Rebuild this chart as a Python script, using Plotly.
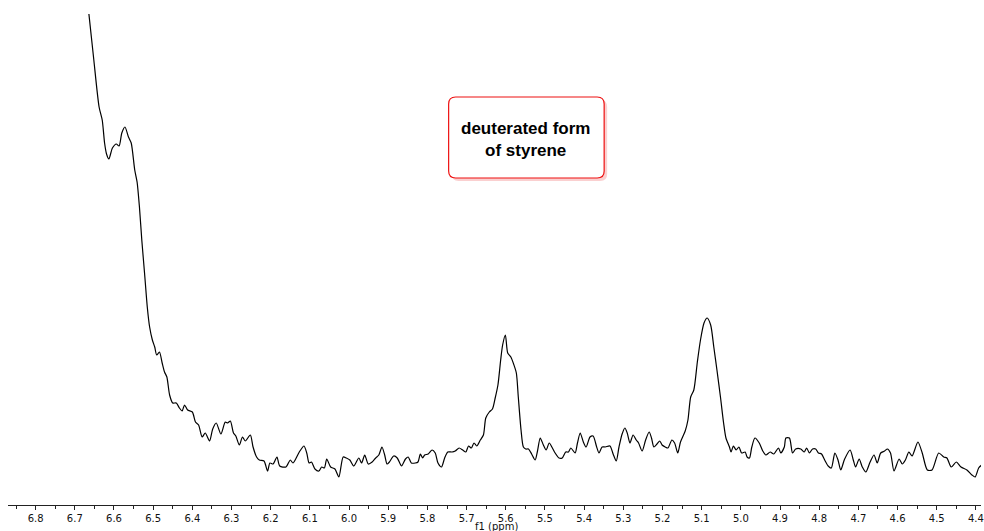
import plotly.graph_objects as go

# Chemical shift (ppm) and intensity (arbitrary units)
ppm = [
    6.670, 6.664, 6.652, 6.638, 6.630, 6.624, 6.619, 6.613, 6.604, 6.594,
    6.587, 6.580, 6.572, 6.563, 6.556, 6.547, 6.541, 6.535, 6.529, 6.522,
    6.515, 6.509, 6.502, 6.496, 6.491, 6.484, 6.477, 6.471, 6.465, 6.458,
    6.450, 6.441, 6.433, 6.426, 6.420, 6.412, 6.400, 6.392, 6.384, 6.375,
    6.367, 6.356, 6.348, 6.339, 6.327, 6.316, 6.310, 6.303, 6.295, 6.289,
    6.280, 6.272, 6.265, 6.252, 6.245, 6.236, 6.229, 6.217, 6.208, 6.202,
    6.194, 6.184, 6.177, 6.161, 6.150, 6.143, 6.127, 6.115, 6.108, 6.102,
    6.096, 6.087, 6.077, 6.070, 6.063, 6.057, 6.047, 6.036, 6.026, 6.015,
    6.007, 5.998, 5.988, 5.975, 5.968, 5.960, 5.951, 5.941, 5.932, 5.924,
    5.916, 5.909, 5.903, 5.897, 5.886, 5.877, 5.866, 5.856, 5.849, 5.841,
    5.831, 5.824, 5.818, 5.812, 5.807, 5.798, 5.788, 5.780, 5.773, 5.764,
    5.756, 5.748, 5.737, 5.729, 5.719, 5.710, 5.702, 5.695, 5.688, 5.681,
    5.674, 5.665, 5.657, 5.651, 5.642, 5.634, 5.627, 5.620, 5.613, 5.608,
    5.601, 5.595, 5.587, 5.580, 5.573, 5.568, 5.561, 5.555, 5.549, 5.542,
    5.534, 5.525, 5.519, 5.512, 5.504, 5.497, 5.489, 5.481, 5.474, 5.464,
    5.456, 5.447, 5.440, 5.434, 5.423, 5.417, 5.410, 5.402, 5.395, 5.385,
    5.377, 5.368, 5.362, 5.354, 5.346, 5.334, 5.326, 5.318, 5.311, 5.303,
    5.296, 5.290, 5.283, 5.275, 5.267, 5.261, 5.252, 5.243, 5.234, 5.228,
    5.222, 5.214, 5.207, 5.201, 5.193, 5.186, 5.176, 5.169, 5.161, 5.154,
    5.142, 5.135, 5.128, 5.120, 5.111, 5.103, 5.094, 5.086, 5.077, 5.069,
    5.061, 5.052, 5.044, 5.038, 5.029, 5.025, 5.019, 5.012, 5.005, 4.998,
    4.989, 4.984, 4.978, 4.972, 4.964, 4.953, 4.944, 4.936, 4.925, 4.916,
    4.904, 4.898, 4.889, 4.885, 4.876, 4.868, 4.860, 4.847, 4.838, 4.832,
    4.825, 4.817, 4.809, 4.802, 4.794, 4.786, 4.777, 4.769, 4.760, 4.752,
    4.745, 4.735, 4.721, 4.713, 4.707, 4.698, 4.690, 4.681, 4.670, 4.660,
    4.652, 4.643, 4.633, 4.626, 4.618, 4.609, 4.596, 4.588, 4.580, 4.571,
    4.563, 4.548, 4.537, 4.524, 4.512, 4.495, 4.482, 4.474, 4.463, 4.450,
    4.438, 4.423, 4.410, 4.402, 4.393, 4.385,
]
intensity = [
    477, 456, 412, 363, 350, 327, 316, 311, 322, 326,
    324, 337, 343, 333, 327, 300, 288, 263, 230, 197,
    163, 143, 130, 123, 115, 118, 107, 98, 93, 75,
    67, 67, 62, 59, 65, 60, 58, 48, 45, 33,
    37, 29, 41, 47, 36, 48, 47, 49, 37, 34,
    25, 33, 29, 35, 23, 13, 10, 9, -1, 7,
    6, 13, 4, 3, 10, 7, 18, 24, 17, 7,
    8, 1, -1, 3, 2, 11, 3, 1, -7, 13,
    12, 10, 4, 12, 7, 15, 6, 8, 12, 15,
    23, 15, 6, 8, 14, 12, 4, 11, 13, 7,
    7, 8, 16, 12, 15, 16, 20, 17, 7, 3,
    12, 18, 18, 19, 22, 20, 18, 24, 22, 27,
    24, 30, 35, 52, 58, 61, 72, 85, 110, 125,
    135, 117, 113, 106, 97, 73, 40, 23, 21, 21,
    16, 10, 19, 32, 25, 20, 27, 22, 17, 12,
    12, 18, 18, 22, 17, 27, 37, 28, 23, 33,
    34, 23, 17, 23, 23, 24, 16, 9, 23, 36,
    42, 37, 27, 35, 30, 27, 19, 30, 38, 32,
    23, 26, 29, 25, 23, 22, 30, 27, 17, 28,
    39, 50, 73, 80, 108, 130, 147, 152, 145, 123,
    100, 73, 47, 32, 23, 18, 24, 20, 23, 17,
    18, 13, 12, 23, 32, 27, 19, 15, 18, 16,
    22, 17, 23, 32, 32, 17, 21, 21, 18, 22,
    17, 21, 21, 17, 16, 10, 4, 2, 17, 10,
    0, 11, 20, 10, 3, 11, 3, -2, 8, 15,
    7, 17, 19, 21, 17, -1, 11, 6, 10, 18,
    14, 28, 17, 0, 0, 17, 13, 12, 3, 8,
    3, 0, -5, -7, 2, 5,
]

x_range = [6.8705, 4.387]
y_range = [-35, 456]
annotation_text = "<b>deuterated form<br>of styrene</b>"
axis_title = "f1 (ppm)"

W, H = 984, 531
ML, MR, MT, MB = 8, 0, 14, 26
PW, PH = W - ML - MR, H - MT - MB


def px_to_paper(px, py):
    return (px - ML) / PW, (H - MB - py) / PH


def rounded_rect(x0, y0, x1, y1, r):
    def p(px, py):
        fx, fy = px_to_paper(px, py)
        return f"{fx:.5f},{fy:.5f}"
    d = (f"M {p(x0 + r, y0)} L {p(x1 - r, y0)} Q {p(x1, y0)} {p(x1, y0 + r)} "
         f"L {p(x1, y1 - r)} Q {p(x1, y1)} {p(x1 - r, y1)} "
         f"L {p(x0 + r, y1)} Q {p(x0, y1)} {p(x0, y1 - r)} "
         f"L {p(x0, y0 + r)} Q {p(x0, y0)} {p(x0 + r, y0)} Z")
    return d


fig = go.Figure()
fig.add_trace(go.Scatter(
    x=ppm, y=intensity, mode="lines",
    line=dict(color="black", width=1.2, shape="spline", smoothing=0.7),
    hoverinfo="skip", showlegend=False,
))

bx0, by0, bx1, by1 = 450, 97, 606, 178
shapes = [
    dict(type="path", xref="paper", yref="paper",
         path=rounded_rect(bx0 + 3, by0 + 3, bx1 + 3, by1 + 3, 7),
         fillcolor="rgba(240,120,120,0.35)", line=dict(width=0), layer="above"),
    dict(type="path", xref="paper", yref="paper",
         path=rounded_rect(bx0, by0, bx1, by1, 7),
         fillcolor="white", line=dict(color="#ee1111", width=1.2), layer="above"),
]

cx, cy = px_to_paper((bx0 + bx1) / 2 - 1, (by0 + by1) / 2 + 2)
tx, ty = px_to_paper(498, 505)
annotations = [
    dict(xref="paper", yref="paper", x=cx, y=cy, text=annotation_text,
         showarrow=False, xanchor="center", yanchor="middle",
         font=dict(family="Liberation Sans, Arial", size=17, color="black")),
    dict(xref="paper", yref="paper", x=tx, y=ty, text=axis_title,
         showarrow=False, xanchor="center", yanchor="middle", yshift=-21,
         font=dict(family="DejaVu Sans, Verdana", size=10, color="#111")),
]

fig.update_layout(
    width=W, height=H,
    margin=dict(l=ML, r=MR, t=MT, b=MB, pad=0),
    paper_bgcolor="white", plot_bgcolor="white",
    shapes=shapes, annotations=annotations,
    xaxis=dict(
        range=x_range, showgrid=False, zeroline=False,
        showline=True, linecolor="#222", linewidth=1,
        ticks="outside", ticklen=4, tickcolor="#222", tickwidth=1,
        dtick=0.1, tick0=4.4, tickformat=".1f", ticklabeloverflow="allow",
        tickfont=dict(family="DejaVu Sans, Verdana", size=10, color="#111"),
        minor=dict(dtick=0.05, tick0=4.4, ticks="outside", ticklen=3,
                   tickcolor="#222", tickwidth=1, showgrid=False),
    ),
    yaxis=dict(range=y_range, visible=False, showgrid=False, zeroline=False),
)

fig.write_html(
    "out.html",
    config={"displayModeBar": False},
    post_script="document.body.style.margin='0';document.body.style.overflow='hidden';",
)
